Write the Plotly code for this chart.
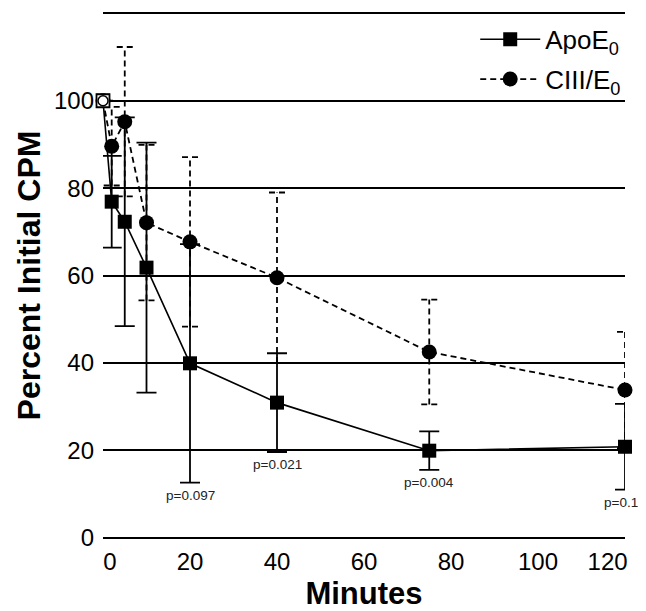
import plotly.graph_objects as go

# ---- data ----
minutes = [0, 2, 5, 10, 20, 40, 75, 120]
apoe_mean = [100, 76.9, 72.3, 61.8, 39.9, 30.9, 19.9, 20.8]
apoe_err = [0, 10.5, 23.9, 28.6, 27.3, 11.3, 4.4, 9.8]
ciii_mean = [100, 89.6, 95.2, 72.1, 67.7, 59.5, 42.5, 33.8]
ciii_err = [0, 9.0, 17.1, 17.8, 19.4, 19.5, 12.0, 13.3]

p_minutes = [20, 40, 75, 120]
p_labels = ["p=0.097", "p=0.021", "p=0.004", "p=0.12"]

y_tick_values = [0, 20, 40, 60, 80, 100, 120]
x_tick_labels = ["0", "20", "40", "60", "80", "100", "120"]

# ---- styling ----
FONT = "Liberation Sans, Arial, Helvetica, sans-serif"
FIG_W, FIG_H = 638, 603          # page body adds 8px offsets inside the 646x611 window
M_L, M_R, M_T, M_B = 95, 21, 1, 69
X_RANGE = [0, 120]
PLOT_W = FIG_W - M_L - M_R
px_per_min = PLOT_W / (X_RANGE[1] - X_RANGE[0])
cap_dx = 8 / px_per_min

fig = go.Figure()

# ApoE0: solid line, filled squares, solid error bars
fig.add_trace(go.Scatter(
    x=minutes, y=apoe_mean, mode="lines+markers", name="ApoE<sub>0</sub>",
    line=dict(color="black", width=1.6),
    marker=dict(symbol="square", size=14, color="black"),
    error_y=dict(type="data", array=[e if e > 0 else None for e in apoe_err],
                 visible=True, color="black", thickness=1.8, width=10),
    cliponaxis=False, legendgroup="a",
))

# CIII/E0 dashed error bars (built from the data)
ex, ey = [], []
for t, m, e in zip(minutes, ciii_mean, ciii_err):
    if e <= 0:
        continue
    ex += [t, t, None, t - cap_dx, t + cap_dx, None, t - cap_dx, t + cap_dx, None]
    ey += [m - e, m + e, None, m + e, m + e, None, m - e, m - e, None]
fig.add_trace(go.Scatter(
    x=ex, y=ey, mode="lines", showlegend=False, hoverinfo="skip",
    line=dict(color="black", width=1.8, dash="6px,4px"), cliponaxis=False,
    legendgroup="b",
))

# CIII/E0: dashed line, filled circles
fig.add_trace(go.Scatter(
    x=minutes, y=ciii_mean, mode="lines+markers", name="CIII/E<sub>0</sub>",
    line=dict(color="black", width=1.8, dash="6px,4px"),
    marker=dict(symbol="circle", size=15, color="black"),
    cliponaxis=False, legendgroup="b",
))

# open markers at time zero
fig.add_trace(go.Scatter(
    x=minutes[:1], y=apoe_mean[:1], mode="markers", showlegend=False,
    marker=dict(symbol="square", size=13, color="white", line=dict(color="black", width=1.8)),
    cliponaxis=False, hoverinfo="skip", legendgroup="c",
))
fig.add_trace(go.Scatter(
    x=minutes[:1], y=ciii_mean[:1], mode="markers", showlegend=False,
    marker=dict(symbol="circle", size=10, color="white", line=dict(color="black", width=1.5)),
    cliponaxis=False, hoverinfo="skip", legendgroup="c",
))

# p-value labels under the ApoE0 error bars
for m, lab in zip(p_minutes, p_labels):
    i = minutes.index(m)
    fig.add_annotation(
        x=m, y=apoe_mean[i] - apoe_err[i], text=lab, showarrow=False,
        xanchor="center", yanchor="top", yshift=-3,
        font=dict(family=FONT, size=13.5, color="#222"),
    )

fig.update_layout(
    width=FIG_W, height=FIG_H,
    margin=dict(l=M_L, r=M_R, t=M_T, b=M_B, autoexpand=False),
    plot_bgcolor="white", paper_bgcolor="white",
    font=dict(family=FONT, color="black"),
    xaxis=dict(
        range=X_RANGE, showgrid=False, zeroline=False, showline=False,
        tickvals=[1.6, 20, 40, 60, 80, 100, 116], ticktext=x_tick_labels,
        ticks="", tickfont=dict(size=24, family=FONT), ticklabelstandoff=3,
        title=dict(text="<b>Minutes</b>", font=dict(size=31, family=FONT), standoff=12),
        automargin=False,
    ),
    yaxis=dict(
        range=[-1, 121], tickvals=y_tick_values, showgrid=True,
        gridcolor="black", gridwidth=1.6, zeroline=False, showline=False,
        ticks="", tickfont=dict(size=24, family=FONT), ticklabelstandoff=8,
        title=dict(text="<b>Percent Initial CPM</b>", font=dict(size=32, family=FONT), standoff=3),
        automargin=False,
    ),
    legend=dict(
        xref="container", yref="container",
        x=0.969, xanchor="right", y=0.987, yanchor="top",
        font=dict(size=26, family=FONT), bgcolor="rgba(0,0,0,0)",
        traceorder="grouped", tracegroupgap=3, itemwidth=60,
    ),
    showlegend=True,
)

fig.write_html("out.html")
